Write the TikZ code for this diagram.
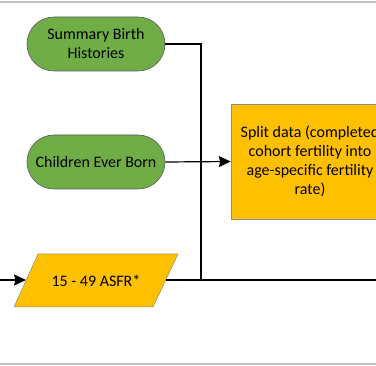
\documentclass[tikz,border=0pt]{standalone}
\usepackage{fontspec}
\setmainfont{Carlito}
\usetikzlibrary{arrows.meta}
\definecolor{pillgreen}{RGB}{112,173,71}
\definecolor{boxorange}{RGB}{255,192,0}
\definecolor{rulegray}{RGB}{192,192,192}
\tikzset{
  pill/.style={draw=black!65, line width=0.6pt, fill=pillgreen, rounded corners=27pt,
    minimum width=138pt, minimum height=54pt, inner sep=0pt, align=center,
    font=\fontsize{16}{19}\selectfont},
  procbox/.style={draw=black!45, line width=0.5pt, fill=boxorange,
    minimum width=158pt, minimum height=115pt, inner sep=0pt, align=center,
    font=\fontsize{16}{19}\selectfont},
  para/.style={draw=black!45, line width=0.5pt, fill=boxorange},
  txt/.style={inner sep=0pt, align=center, font=\fontsize{16}{19}\selectfont},
  conn/.style={draw=black, line width=1.2pt},
  arr/.style={conn, -{Stealth[length=12pt,width=11pt,inset=1.5pt]}},
  rule/.style={draw=rulegray, line width=2pt}
}
\begin{document}
\begin{tikzpicture}[x=1pt,y=-1pt]
\useasboundingbox (0,0) rectangle (376,366);
\clip (0,0) rectangle (376,366);
\draw[rule] (0,2.5) -- (376,2.5);
\draw[rule] (0,364) -- (376,364);
\node[pill] (sbh) at (96,44) {Summary Birth\\Histories};
\node[pill] (ceb) at (96,162) {Children Ever Born};
\node[procbox] (split) at (310,161.5) {Split data (completed\\cohort fertility into\\age-specific fertility\\rate)};
\draw[para] (38,254) -- (178,254) -- (153,307) -- (14,307) -- cycle;
\node[txt] (asfr) at (96,281) {15 - 49 ASFR*};
\coordinate (asfrL) at (26,280);
\coordinate (asfrR) at (165.5,280);
\coordinate (inL) at (0,280);
\coordinate (outR) at (376,280);
\coordinate (bend) at (201,280);
\draw[conn] (sbh.east) -| (bend);
\draw[arr] (ceb.east) -- (split.west);
\draw[arr] (inL) -- (asfrL);
\draw[conn] (asfrR) -- (outR);
\end{tikzpicture}
\end{document}
